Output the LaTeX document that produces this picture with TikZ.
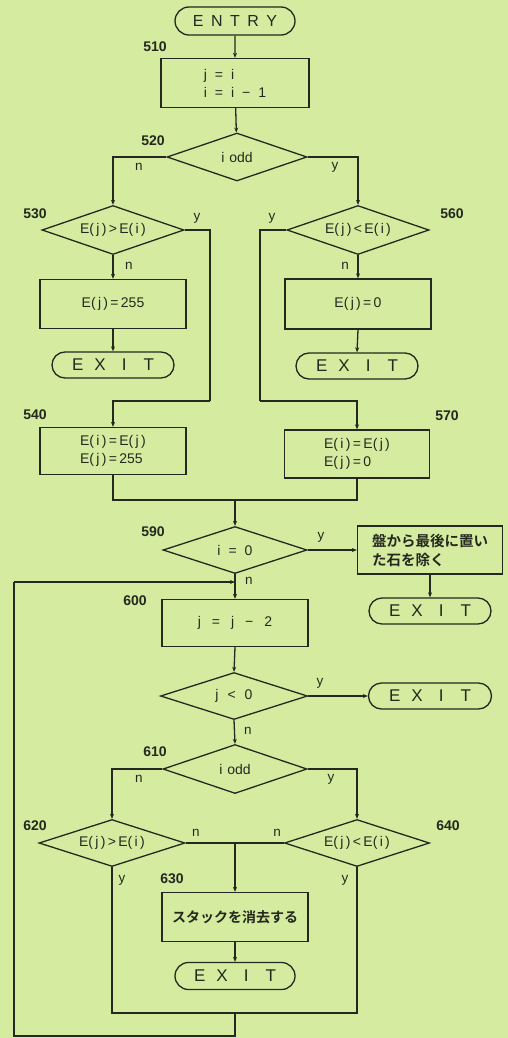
\documentclass[tikz,border=0pt]{standalone}
\usepackage{fontspec}
\setmainfont{Liberation Sans}
\newfontfamily\jp{Noto Sans CJK JP}[BoldFont={* Bold}]
\usetikzlibrary{shapes.geometric,shapes.misc,arrows.meta}
\definecolor{bg}{RGB}{213,236,160}
\definecolor{ink}{RGB}{36,40,30}
\newcommand\gp{\hspace{8pt}}
\newcommand\gq{\hspace{11pt}}
\newcommand\ex{E\hspace{11pt}X\hspace{16pt}I\hspace{17pt}T}
\tikzset{
  box/.style={draw, rectangle, minimum width=146pt, minimum height=48pt, inner sep=0pt, font=\fontsize{14}{18}\selectfont},
  dec/.style={draw, diamond, aspect=3, minimum width=144pt, minimum height=48pt, inner sep=0pt, font=\fontsize{14}{16}\selectfont},
  term/.style={draw, rounded rectangle, minimum width=122pt, minimum height=26pt, inner sep=0pt, font=\fontsize{17}{20}\selectfont},
  num/.style={font=\fontsize{14}{16}\selectfont\bfseries, inner sep=0pt},
  lab/.style={font=\fontsize{13.5}{15}\selectfont, inner sep=0pt},
  arr/.style={-{Stealth[length=5pt,width=4pt]}}
}
\begin{document}
\begin{tikzpicture}[x=1pt,y=-1pt,line width=1.3pt,color=ink]
\fill[bg] (0,0) rectangle (508,1038);
\useasboundingbox (0,0) rectangle (508,1038);

% nodes
\node[term, minimum width=120pt, minimum height=28pt, font=\fontsize{16}{19}\selectfont] (entry) at (235,21) {E\hspace{7.5pt}N\hspace{7.5pt}T\hspace{7.5pt}R\hspace{7.5pt}Y};
\node[num] (l510) at (155,47) {510};
\node[box, minimum width=148pt, minimum height=49pt, align=left] (b510) at (235,83) {j\gp=\gp i\\i\gp=\gp i\gp−\gp 1};
\node[dec, minimum width=140pt] (d520) at (237,157) {i\hspace{5pt}odd};
\node[num] (l520) at (153,141) {520};

\node[dec, minimum width=142pt, minimum height=49pt] (d530) at (113,230) {E(\,j\,)\,>\,E(\,i\,)};
\node[num] (l530) at (35,214) {530};
\node[dec, minimum width=142pt, minimum height=49pt] (d560) at (358,230) {E(\,j\,)\,<\,E(\,i\,)};
\node[num] (l560) at (452,214) {560};

\node[box, minimum height=49pt] (bl1) at (113,304) {E(\,j\,)\,=\,255};
\node[term] (x1) at (113,365) {\ex};
\node[box, minimum height=50pt] (br1) at (358,304) {E(\,j\,)\,=\,0};
\node[term] (x2) at (357,366) {\ex};

\node[box, minimum height=47pt, align=left] (b540) at (113,451) {E(\,i\,)\,=\,E(\,j\,)\\E(\,j\,)\,=\,255};
\node[num] (l540) at (35,415) {540};
\node[box, minimum width=145pt, align=left] (b570) at (357,454) {E(\,i\,)\,=\,E(\,j\,)\\E(\,j\,)\,=\,0};
\node[num] (l570) at (447,416) {570};

\node[dec, minimum height=47pt] (d590) at (235,550) {i\gp=\gp 0};
\node[num] (l590) at (153,532) {590};
\node[box, minimum width=145pt, align=left, font=\jp\bfseries\fontsize{14.5}{19}\selectfont] (bjp) at (430,550) {盤から最後に置い\\た石を除く};
\node[term] (x3) at (430,611) {\ex};

\node[box, minimum height=47pt] (b600) at (235,623) {j\gq=\gq j\gq−\gq 2};
\node[num] (l600) at (135,601) {600};
\node[dec, minimum width=147pt, minimum height=47pt] (dj) at (234,696) {j\hspace{9pt}<\hspace{9pt}0};
\node[term, minimum width=123pt] (x4) at (430,696) {\ex};

\node[dec, minimum height=49pt] (d610) at (235,769) {i\hspace{5pt}odd};
\node[num] (l610) at (155,752) {610};
\node[dec, minimum width=146pt, minimum height=47pt] (d620) at (112,843) {E(\,j\,)\,>\,E(\,i\,)};
\node[num] (l620) at (35,826) {620};
\node[dec, minimum width=145pt, minimum height=47pt] (d640) at (357,843) {E(\,j\,)\,<\,E(\,i\,)};
\node[num] (l640) at (448,826) {640};

\node[box, minimum height=49pt, font=\jp\bfseries\fontsize{14}{18}\selectfont] (b630) at (235,917) {スタックを消去する};
\node[num] (l630) at (172,879) {630};
\node[term, minimum width=120pt, minimum height=27pt] (x5) at (235,976) {\ex};

% coordinates
\coordinate (c1) at (210,401);
\coordinate (c2) at (260,401);
\coordinate (c3) at (235,500);
\coordinate (c4) at (235,582);
\coordinate (c7) at (235,843);
\coordinate (c6) at (235,1013);
\coordinate (c8) at (235,1036);
\coordinate (c9) at (14,1036);
\coordinate (c10) at (14,582);

% connectors
\draw[arr] (entry) -- (b510);
\draw[arr] (b510) -- (d520);
\draw[arr] (d520.west) -| (d530.north);
\draw[arr] (d520.east) -| (d560.north);
\draw[arr] (d530.south) -- (bl1.north);
\draw[arr] (bl1.south) -- (x1.north);
\draw[arr] (d560.south) -- (br1.north);
\draw[arr] (br1.south) -- (x2.north);
\draw (d530.east) -| (c1);
\draw[arr] (c1) -| (b540.north);
\draw (d560.west) -| (c2);
\draw[arr] (c2) -| (b570.north);
\draw (b540.south) |- (c3);
\draw (b570.south) |- (c3);
\draw[arr] (c3) -- (d590.north);
\draw[arr] (d590.east) -- (bjp.west);
\draw[arr] (bjp.south) -- (x3.north);
\draw[arr] (d590.south) -- (b600.north);
\draw[arr] (b600.south) -- (dj.north);
\draw[arr] (dj.east) -- (x4.west);
\draw[arr] (dj.south) -- (d610.north);
\draw[arr] (d610.west) -| (d620.north);
\draw[arr] (d610.east) -| (d640.north);
\draw (d620.east) -- (d640.west);
\draw[arr] (c7) -- (b630.north);
\draw[arr] (b630.south) -- (x5.north);
\draw (d620.south) |- (c6);
\draw (d640.south) |- (c6);
\draw (c6) -- (c8) -- (c9) -- (c10);
\draw[arr] (c10) -- (c4);

% flow labels
\node[lab] (n520) at (139,167) {n};
\node[lab] (y520) at (335,167) {y};
\node[lab] (y530) at (197,218) {y};
\node[lab] (n530) at (129,266) {n};
\node[lab] (y560) at (272,218) {y};
\node[lab] (n560) at (345,266) {n};
\node[lab] (y590) at (321,537) {y};
\node[lab] (n590) at (249,581) {n};
\node[lab] (yj) at (320,683) {y};
\node[lab] (nj) at (248,731) {n};
\node[lab] (n610) at (139,779) {n};
\node[lab] (y610) at (331,779) {y};
\node[lab] (n620) at (196,833) {n};
\node[lab] (n640) at (277,833) {n};
\node[lab] (y620) at (122,880) {y};
\node[lab] (y640) at (345,880) {y};
\end{tikzpicture}
\end{document}
